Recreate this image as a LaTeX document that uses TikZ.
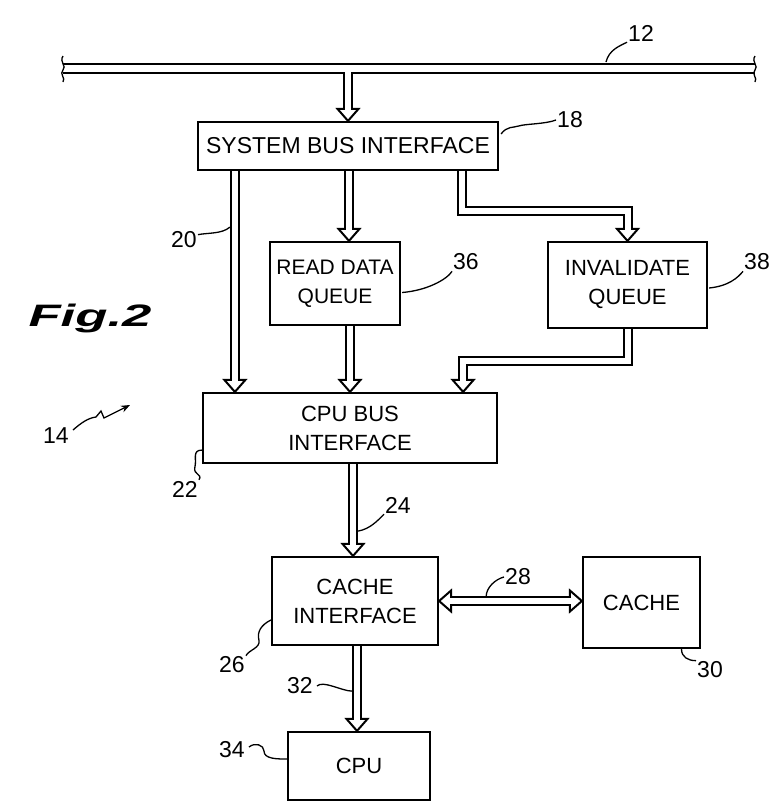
\documentclass[tikz,border=0pt]{standalone}
\usepackage{fontspec}
\setmainfont{Liberation Sans}
\usetikzlibrary{arrows.meta, calc, positioning}

\tikzset{
    bus/.style = {draw = black, line width = 2pt, double = white, double distance = 6pt},
    box/.style = {draw = black, line width = 2.2pt, fill = white, align = center,
                  inner sep = 0pt, font = \fontsize{22}{29}\selectfont},
    lead/.style = {line width = 1.3pt},
    ref/.style = {inner sep = 1pt, font = \fontsize{23}{23}\selectfont},
    bhead/.pic = {\draw[line width = 2pt, line join = miter]
        (-4,-12) -- (-10.5,-12) -- (0,0) -- (10.5,-12) -- (4,-12);}
}

\begin{document}
\begin{tikzpicture}[
            x = 1pt, y = -1pt, % pixel units, y runs down
            > = Stealth
        ]
        \useasboundingbox (0,0) rectangle (773,807);

        % blocks
        \node[box, minimum width = 300, minimum height = 48, font = \fontsize{23}{29}\selectfont] (sbi) at (348,146) {SYSTEM BUS INTERFACE};
        \node[box, minimum width = 130, minimum height = 83, font = \fontsize{21}{29}\selectfont] (rdq) at (335,283.5) {READ DATA\\QUEUE};
        \node[box, minimum width = 159, minimum height = 86] (invq) at (627.5,285) {INVALIDATE\\QUEUE};
        \node[box, minimum width = 294, minimum height = 70] (cpubi) at (350,428) {CPU BUS\\INTERFACE};
        \node[box, minimum width = 166, minimum height = 88] (ci) at (355,601) {CACHE\\INTERFACE};
        \node[box, minimum width = 117, minimum height = 91] (cache) at (641.5,602.5) {CACHE};
        \node[box, minimum width = 142, minimum height = 68] (cpu) at (359,766) {CPU};

        % system bus 12
        \coordinate (tap) at (sbi.north |- 0,68);
        \draw[bus, double distance = 7pt] (63,68) -- (755,68);
        \draw[bus] (tap) -- ($(sbi.north)+(0,-11)$);
        \draw[white, line width = 7pt] (64,68) -- (754,68);
        \pic at (sbi.north) {bhead};
        \draw[lead] (63,56) .. controls (59,62) and (67,66) .. (63,70) .. controls (59,74) and (66,78) .. (63,82);
        \draw[lead] (755,56) .. controls (751,62) and (759,66) .. (755,70) .. controls (751,74) and (758,78) .. (755,82);

        % buses out of the system bus interface
        \coordinate (t20) at ($(cpubi.north west)+(33,0)$);
        \draw[bus] (t20 |- sbi.south) -- ($(t20)+(0,-11)$);
        \pic at (t20) {bhead};

        \coordinate (t36) at ($(rdq.north)+(14,0)$);
        \draw[bus] (t36 |- sbi.south) -- ($(t36)+(0,-11)$);
        \pic at (t36) {bhead};

        \draw[bus] ($(sbi.south east)+(-37,0)$) |- ($(invq.north)+(0,-30)$) -- ($(invq.north)+(0,-11)$);
        \pic at (invq.north) {bhead};

        % queues into the cpu bus interface
        \coordinate (s36) at ($(rdq.south)+(15,0)$);
        \draw[bus] (s36) -- ($(s36 |- cpubi.north)+(0,-11)$);
        \pic at (s36 |- cpubi.north) {bhead};

        \coordinate (t38) at ($(cpubi.north east)+(-35,0)$);
        \draw[bus] (invq.south) |- ($(t38)+(0,-31)$) -- ($(t38)+(0,-11)$);
        \pic at (t38) {bhead};

        % down to the cache and the cpu
        \coordinate (s24) at ($(cpubi.south)+(3,0)$);
        \draw[bus] (s24) -- ($(s24 |- ci.north)+(0,-11)$);
        \pic at (s24 |- ci.north) {bhead};

        \coordinate (s32) at ($(ci.south)+(2,0)$);
        \draw[bus] (s32) -- ($(s32 |- cpu.north)+(0,-11)$);
        \pic at (s32 |- cpu.north) {bhead};

        \coordinate (e28) at (ci.east -| cache.west);
        \draw[bus] ($(ci.east)+(11,0)$) -- ($(e28)+(-11,0)$);
        \pic[rotate = -90] at (ci.east) {bhead};
        \pic[rotate = 90] at (e28) {bhead};

        % reference numerals
        \node[ref] (n12) at (641,33) {12};
        \node[ref] (n18) at (570,120) {18};
        \node[ref] (n20) at (184,240) {20};
        \node[ref] (n36) at (466,262) {36};
        \node[ref] (n38) at (757,262) {38};
        \node[ref] (n14) at (56,436) {14};
        \node[ref] (n22) at (185,489) {22};
        \node[ref] (n24) at (398,505) {24};
        \node[ref] (n26) at (232,665) {26};
        \node[ref] (n28) at (518,577) {28};
        \node[ref] (n30) at (710,670) {30};
        \node[ref] (n32) at (300,686) {32};
        \node[ref] (n34) at (232,750) {34};

        \node[font = \fontsize{31}{31}\selectfont\bfseries\itshape, xscale = 1.7] (fig) at (90,318) {Fig.2};

        % leader lines
        \draw[lead] ($(tap)+(258,-6)$) .. controls +(3,-12) and +(-8,4) .. (n12.south west);
        \draw[lead] ($(sbi.north east)+(2,13)$) .. controls +(6,-8) and +(-6,2) .. ($(sbi.north east)+(20,5)$)
            .. controls +(6,-2) and +(-10,4) .. (n18.west);
        \draw[lead] ($(t20 |- sbi.south)+(-5,56)$) .. controls +(-8,7) and +(10,-2) .. ($(n20.north east)+(0,4)$);
        \draw[lead] ($(rdq.east)+(1,9)$) .. controls +(25,-2) and +(-5,8) .. (n36.south west);
        \draw[lead] ($(invq.east)+(1,3)$) .. controls +(20,-2) and +(-5,6) .. (n38.south west);
        \draw[lead, -{Stealth[length = 9pt, width = 7pt]}] ($(n14.east)+(3,-6)$) .. controls +(8,-7) and +(-8,1) .. (96,417) -- (101,411) -- (104,418) -- (130,405);
        \draw[lead] ($(cpubi.south west)+(0,-14)$) .. controls +(-10,0) and +(2,-8) .. ($(cpubi.south west)+(-7,3)$)
            .. controls +(-2,8) and +(4,-6) .. (n22.north east);
        \draw[lead] ($(s24)+(5,67)$) .. controls +(12,-2) and +(-6,6) .. (n24.south west);
        \draw[lead] ($(ci.west)+(0,19)$) .. controls +(-10,5) and +(-2,-8) .. ($(ci.west)+(-12,39)$)
            .. controls +(2,8) and +(3,-6) .. (n26.north east);
        \draw[lead] ($(ci.east)+(47,-4)$) .. controls +(0,-10) and +(-8,2) .. (n28.west);
        \draw[lead] ($(cache.south)+(40,0)$) .. controls +(0,8) and +(-8,0) .. (n30.north west);
        \draw[lead] ($(n32.east)+(3,0)$) .. controls +(6,-6) and +(-10,0) .. ($(s32)+(-5,45)$);
        \draw[lead] ($(n34.east)+(3,-3)$) .. controls +(6,-5) and +(0,-6) .. ($(n34.east)+(18,1)$)
            .. controls +(0,8) and +(-10,0) .. ($(cpu.west)+(0,-7)$);
    \end{tikzpicture}
\end{document}
